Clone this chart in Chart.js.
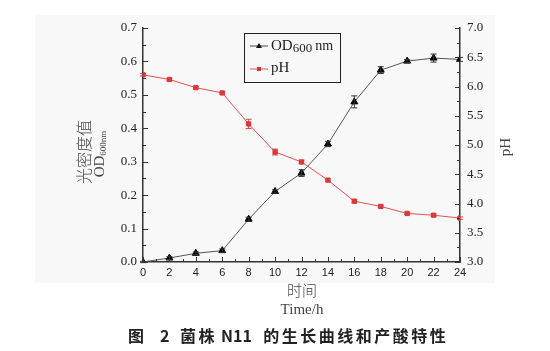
<!DOCTYPE html>
<html>
<head>
<meta charset="utf-8">
<script src="https://cdn.jsdelivr.net/npm/chart.js@4"></script>
<style>
  body { margin: 0; background: #fff; }
  #wrap { position: relative; width: 550px; height: 351px; }
</style>
</head>
<body>
<div id="wrap"><canvas id="growthChart" width="550" height="351"></canvas></div>
<script>
// Data
var hours = [0, 2, 4, 6, 8, 10, 12, 14, 16, 18, 20, 22, 24];
var odValues = [0.0, 0.012, 0.026, 0.034, 0.128, 0.211, 0.266, 0.353, 0.479, 0.574, 0.601, 0.610, 0.606];
var odErrors = [0.002, 0.004, 0.004, 0.005, 0.006, 0.005, 0.010, 0.008, 0.018, 0.010, 0.005, 0.012, 0.006];
var phValues = [6.20, 6.12, 5.98, 5.89, 5.36, 4.88, 4.71, 4.40, 4.04, 3.95, 3.83, 3.80, 3.75];
var phErrors = [0.02, 0.02, 0.02, 0.02, 0.08, 0.05, 0.03, 0.02, 0.03, 0.02, 0.02, 0.02, 0.02];
var odTicks = [0, 0.1, 0.2, 0.3, 0.4, 0.5, 0.6, 0.7];
var phTicks = [3.0, 3.5, 4.0, 4.5, 5.0, 5.5, 6.0, 6.5, 7.0];

var SERIF = '"Liberation Serif", "DejaVu Serif", serif';
var SANS = '"Liberation Sans", Arial, sans-serif';
var CJK = '"Noto Sans CJK SC", sans-serif';

var ctx = document.getElementById('growthChart').getContext('2d');

// inward ticks, error bars, titles, legend
var decorPlugin = {
    id: 'decor',
    beforeDraw: function (chart) {
        var c = chart.ctx;
        c.save();
        c.fillStyle = '#f8f8f8';
        c.fillRect(35, 15, 460, 268);
        c.restore();
    },
    afterDatasetsDraw: function (chart) {
        var c = chart.ctx;
        var xs = chart.scales.x, yl = chart.scales.y, yr = chart.scales.y1;
        c.save();
        c.lineWidth = 1;
        // error bars
        function bars(vals, errs, scale, color) {
            c.strokeStyle = color;
            for (var i = 0; i < hours.length; i++) {
                var px = xs.getPixelForValue(hours[i]);
                var top = scale.getPixelForValue(vals[i] + errs[i]);
                var bot = scale.getPixelForValue(vals[i] - errs[i]);
                c.beginPath();
                c.moveTo(px, top); c.lineTo(px, bot);
                c.moveTo(px - 3, top); c.lineTo(px + 3, top);
                c.moveTo(px - 3, bot); c.lineTo(px + 3, bot);
                c.stroke();
            }
        }
        bars(odValues, odErrors, yl, '#333');
        bars(phValues, phErrors, yr, '#d64040');
        c.restore();
    },
    afterDraw: function (chart) {
        var c = chart.ctx;
        var a = chart.chartArea;
        var xs = chart.scales.x, yl = chart.scales.y, yr = chart.scales.y1;
        c.save();
        c.strokeStyle = '#333';
        c.lineWidth = 1;
        c.beginPath();
        // left axis ticks
        for (var v = 0; v <= 70; v += 5) {
            var py = Math.round(yl.getPixelForValue(v / 100)) + 0.5;
            var len = (v % 10 === 0) ? 5 : 3;
            c.moveTo(a.left, py); c.lineTo(a.left + len, py);
        }
        // right axis ticks
        for (var w = 300; w <= 700; w += 25) {
            var py2 = Math.round(yr.getPixelForValue(w / 100)) + 0.5;
            var len2 = (w % 50 === 0) ? 5 : 3;
            c.moveTo(a.right, py2); c.lineTo(a.right - len2, py2);
        }
        // bottom ticks
        for (var h = 0; h <= 24; h++) {
            var px = Math.round(xs.getPixelForValue(h)) + 0.5;
            var len3 = (h % 2 === 0) ? 5 : 3;
            c.moveTo(px, a.bottom); c.lineTo(px, a.bottom - len3);
        }
        c.stroke();

        // axis titles
        c.fillStyle = '#444';
        c.textAlign = 'center';
        c.textBaseline = 'middle';
        c.save();
        c.translate(84, 152);
        c.rotate(-Math.PI / 2);
        c.font = '300 16px ' + CJK;
        c.fillText('光密度值', 0, 0);
        c.restore();

        c.save();
        c.translate(100, 154);
        c.rotate(-Math.PI / 2);
        c.textAlign = 'left';
        c.font = '15px ' + SERIF;
        var odW = c.measureText('OD').width;
        c.font = '9px ' + SERIF;
        var subW = c.measureText('600nm').width;
        var start = -(odW + subW) / 2;
        c.font = '15px ' + SERIF;
        c.fillText('OD', start, 0);
        c.font = '9px ' + SERIF;
        c.fillText('600nm', start + odW, 4);
        c.restore();

        c.save();
        c.translate(506, 147);
        c.rotate(-Math.PI / 2);
        c.font = '15px ' + SERIF;
        c.fillText('pH', 0, 0);
        c.restore();

        c.font = '300 15px ' + CJK;
        c.fillText('时间', 302, 290);
        c.font = '15px ' + SERIF;
        c.fillText('Time/h', 302, 310);

        c.font = 'bold 16px ' + CJK;
        c.fillStyle = '#222';
        c.textAlign = 'left';
        c.fillText('图', 128, 336);
        c.fillText('2', 160, 336);
        c.letterSpacing = '2.5px';
        c.fillText('菌株', 180, 336);
        c.letterSpacing = '0px';
        var nx = 180 + 2 * 18.5 + 4;
        c.fillText('N11', nx, 336);
        c.letterSpacing = '2.5px';
        c.fillText('的生长曲线和产酸特性', nx + c.measureText('N11').width + 4, 336);
        c.letterSpacing = '0px';

        // legend
        c.strokeStyle = '#222';
        c.lineWidth = 1;
        c.strokeRect(244.5, 33.5, 96, 49);
        c.textAlign = 'left';
        c.lineWidth = 1;
        c.strokeStyle = '#444';
        c.beginPath(); c.moveTo(250, 46); c.lineTo(268, 46); c.stroke();
        c.fillStyle = '#111';
        c.beginPath(); c.moveTo(259, 43); c.lineTo(262, 48); c.lineTo(256, 48); c.closePath(); c.fill();
        c.font = '15px ' + SERIF;
        c.fillStyle = '#222';
        c.fillText('OD', 271, 46);
        var odw2 = c.measureText('OD').width;
        c.font = '13px ' + SERIF;
        c.fillText('600', 271 + odw2, 49);
        var w600 = c.measureText('600').width;
        c.font = '14px ' + SERIF;
        c.fillText('nm', 274 + odw2 + w600, 46);

        c.strokeStyle = '#e05050';
        c.beginPath(); c.moveTo(250, 69); c.lineTo(268, 69); c.stroke();
        c.fillStyle = '#d83434';
        c.fillRect(257, 67, 4, 4);
        c.fillStyle = '#222';
        c.font = '15px ' + SERIF;
        c.fillText('pH', 271, 68);
        c.restore();
    }
};

var chartData = {
    datasets: [
        {
            label: 'OD600nm',
            data: hours.map(function (h, i) { return { x: h, y: odValues[i] }; }),
            yAxisID: 'y',
            borderColor: '#555',
            borderWidth: 1,
            pointStyle: 'triangle',
            pointRadius: 4,
            pointBackgroundColor: '#000',
            pointBorderColor: '#000',
            pointBorderWidth: 1,
            tension: 0
        },
        {
            label: 'pH',
            data: hours.map(function (h, i) { return { x: h, y: phValues[i] }; }),
            yAxisID: 'y1',
            borderColor: '#e05050',
            borderWidth: 1,
            pointStyle: 'rect',
            pointRadius: 3,
            pointBackgroundColor: '#d83434',
            pointBorderColor: '#d83434',
            pointBorderWidth: 1,
            tension: 0
        }
    ]
};

var chartOptions = {
    responsive: false,
    animation: false,
    layout: { padding: { top: 28, left: 0, right: 0, bottom: 0 } },
    plugins: {
        legend: { display: false },
        tooltip: { enabled: false }
    },
    scales: {
        x: {
            type: 'linear',
            min: 0,
            max: 24,
            afterFit: function (s) { s.height = 89; },
            afterBuildTicks: function (s) { s.ticks = hours.map(function (v) { return { value: v }; }); },
            grid: { display: false, drawTicks: false },
            border: { display: true, color: '#333', width: 1.5 },
            ticks: { color: '#222', font: { family: SANS, size: 11 }, padding: 4 }
        },
        y: {
            position: 'left',
            min: 0,
            max: 0.7,
            afterFit: function (s) { s.width = 143; },
            afterBuildTicks: function (s) { s.ticks = odTicks.map(function (v) { return { value: v }; }); },
            grid: { display: false, drawTicks: false },
            border: { display: true, color: '#333', width: 1.5 },
            ticks: {
                color: '#222', font: { family: SERIF, size: 13 }, padding: 6,
                callback: function (v) { return v.toFixed(1); }
            }
        },
        y1: {
            position: 'right',
            min: 3,
            max: 7,
            afterFit: function (s) { s.width = 90; },
            afterBuildTicks: function (s) { s.ticks = phTicks.map(function (v) { return { value: v }; }); },
            grid: { display: false, drawTicks: false },
            border: { display: true, color: '#333', width: 1.5 },
            ticks: {
                color: '#222', font: { family: SERIF, size: 13 }, padding: 7,
                callback: function (v) { return v.toFixed(1); }
            }
        }
    }
};

var growthChart = new Chart(ctx, {
    type: 'line',
    data: chartData,
    options: chartOptions,
    plugins: [decorPlugin]
});
</script>
</body>
</html>
